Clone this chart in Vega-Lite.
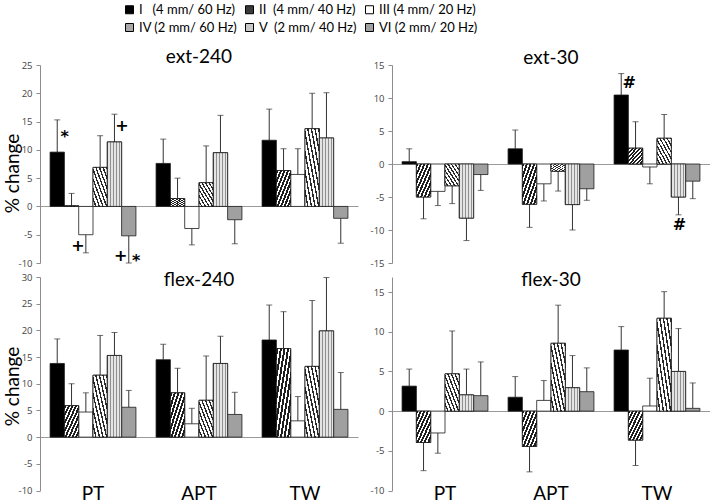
{
  "$schema": "https://vega.github.io/schema/vega-lite/v6.json",
  "background": "white",
  "padding": {"left": 3, "top": 0, "right": 0, "bottom": 0},
  "bounds": "flush",
  "columns": 2,
  "spacing": {"row": 14, "column": 34},
  "datasets": {
    "bars": [
      {"p":"ext-240","g":"PT","c":"I","v":9.6,"e":15.3},
      {"p":"ext-240","g":"PT","c":"II","v":0.1,"e":2.3},
      {"p":"ext-240","g":"PT","c":"III","v":-5.0,"e":-8.2},
      {"p":"ext-240","g":"PT","c":"IV","v":6.9,"e":12.5},
      {"p":"ext-240","g":"PT","c":"V","v":11.4,"e":16.3},
      {"p":"ext-240","g":"PT","c":"VI","v":-5.2,"e":-10.0},
      {"p":"ext-240","g":"APT","c":"I","v":7.6,"e":11.9},
      {"p":"ext-240","g":"APT","c":"II","v":1.4,"e":5.0},
      {"p":"ext-240","g":"APT","c":"III","v":-3.9,"e":-6.8},
      {"p":"ext-240","g":"APT","c":"IV","v":4.2,"e":10.7},
      {"p":"ext-240","g":"APT","c":"V","v":9.5,"e":16.1},
      {"p":"ext-240","g":"APT","c":"VI","v":-2.35,"e":-6.6},
      {"p":"ext-240","g":"TW","c":"I","v":11.7,"e":17.2},
      {"p":"ext-240","g":"TW","c":"II","v":6.35,"e":10.2},
      {"p":"ext-240","g":"TW","c":"III","v":5.65,"e":10.2},
      {"p":"ext-240","g":"TW","c":"IV","v":13.75,"e":20.0},
      {"p":"ext-240","g":"TW","c":"V","v":12.1,"e":20.1},
      {"p":"ext-240","g":"TW","c":"VI","v":-2.1,"e":-6.5},
      {"p":"ext-30","g":"PT","c":"I","v":0.35,"e":2.3},
      {"p":"ext-30","g":"PT","c":"II","v":-5.0,"e":-8.3},
      {"p":"ext-30","g":"PT","c":"III","v":-4.15,"e":-6.3},
      {"p":"ext-30","g":"PT","c":"IV","v":-3.3,"e":-6.0},
      {"p":"ext-30","g":"PT","c":"V","v":-8.2,"e":-11.6},
      {"p":"ext-30","g":"PT","c":"VI","v":-1.6,"e":-4.0},
      {"p":"ext-30","g":"APT","c":"I","v":2.3,"e":5.15},
      {"p":"ext-30","g":"APT","c":"II","v":-6.1,"e":-9.6},
      {"p":"ext-30","g":"APT","c":"III","v":-3.0,"e":-5.6},
      {"p":"ext-30","g":"APT","c":"IV","v":-1.1,"e":-4.1},
      {"p":"ext-30","g":"APT","c":"V","v":-6.15,"e":-10.0},
      {"p":"ext-30","g":"APT","c":"VI","v":-3.75,"e":-5.5},
      {"p":"ext-30","g":"TW","c":"I","v":10.45,"e":13.7},
      {"p":"ext-30","g":"TW","c":"II","v":2.4,"e":6.4},
      {"p":"ext-30","g":"TW","c":"III","v":-0.45,"e":-3.0},
      {"p":"ext-30","g":"TW","c":"IV","v":3.9,"e":7.5},
      {"p":"ext-30","g":"TW","c":"V","v":-5.0,"e":-7.7},
      {"p":"ext-30","g":"TW","c":"VI","v":-2.6,"e":-5.25},
      {"p":"flex-240","g":"PT","c":"I","v":13.8,"e":18.4},
      {"p":"flex-240","g":"PT","c":"II","v":5.9,"e":10.0},
      {"p":"flex-240","g":"PT","c":"III","v":4.7,"e":8.3},
      {"p":"flex-240","g":"PT","c":"IV","v":11.6,"e":19.05},
      {"p":"flex-240","g":"PT","c":"V","v":15.3,"e":19.6},
      {"p":"flex-240","g":"PT","c":"VI","v":5.6,"e":8.75},
      {"p":"flex-240","g":"APT","c":"I","v":14.5,"e":17.4},
      {"p":"flex-240","g":"APT","c":"II","v":8.3,"e":12.9},
      {"p":"flex-240","g":"APT","c":"III","v":2.5,"e":5.4},
      {"p":"flex-240","g":"APT","c":"IV","v":6.9,"e":15.2},
      {"p":"flex-240","g":"APT","c":"V","v":13.8,"e":18.9},
      {"p":"flex-240","g":"APT","c":"VI","v":4.25,"e":8.4},
      {"p":"flex-240","g":"TW","c":"I","v":18.2,"e":24.75},
      {"p":"flex-240","g":"TW","c":"II","v":16.6,"e":23.5},
      {"p":"flex-240","g":"TW","c":"III","v":3.05,"e":7.6},
      {"p":"flex-240","g":"TW","c":"IV","v":13.25,"e":25.6},
      {"p":"flex-240","g":"TW","c":"V","v":19.9,"e":29.9},
      {"p":"flex-240","g":"TW","c":"VI","v":5.2,"e":12.1},
      {"p":"flex-30","g":"PT","c":"I","v":3.15,"e":5.3},
      {"p":"flex-30","g":"PT","c":"II","v":-3.95,"e":-7.5},
      {"p":"flex-30","g":"PT","c":"III","v":-2.75,"e":-5.3},
      {"p":"flex-30","g":"PT","c":"IV","v":4.7,"e":10.1},
      {"p":"flex-30","g":"PT","c":"V","v":2.05,"e":5.3},
      {"p":"flex-30","g":"PT","c":"VI","v":1.95,"e":6.2},
      {"p":"flex-30","g":"APT","c":"I","v":1.75,"e":4.35},
      {"p":"flex-30","g":"APT","c":"II","v":-4.45,"e":-7.65},
      {"p":"flex-30","g":"APT","c":"III","v":1.35,"e":3.85},
      {"p":"flex-30","g":"APT","c":"IV","v":8.55,"e":13.35},
      {"p":"flex-30","g":"APT","c":"V","v":2.95,"e":7.0},
      {"p":"flex-30","g":"APT","c":"VI","v":2.45,"e":5.45},
      {"p":"flex-30","g":"TW","c":"I","v":7.7,"e":10.65},
      {"p":"flex-30","g":"TW","c":"II","v":-3.65,"e":-6.85},
      {"p":"flex-30","g":"TW","c":"III","v":0.65,"e":4.15},
      {"p":"flex-30","g":"TW","c":"IV","v":11.7,"e":15.05},
      {"p":"flex-30","g":"TW","c":"V","v":5.0,"e":10.4},
      {"p":"flex-30","g":"TW","c":"VI","v":0.35,"e":3.55}
    ],
    "notes": [
      {"p":"ext-240","g":"PT","c":"I","y":12.2,"t":"*","s":"r"},
      {"p":"ext-240","g":"PT","c":"V","y":14.2,"t":"+","s":"r"},
      {"p":"ext-240","g":"PT","c":"III","y":-7.05,"t":"+","s":"l"},
      {"p":"ext-240","g":"PT","c":"VI","y":-8.7,"t":"+","s":"l"},
      {"p":"ext-240","g":"PT","c":"VI","y":-9.6,"t":"*","s":"r"},
      {"p":"ext-30","g":"TW","c":"I","y":12.2,"t":"#","s":"r"},
      {"p":"ext-30","g":"TW","c":"V","y":-9.3,"t":"#","s":"c"}
    ]
  },
  "concat": [
    {
      "width": 318, "height": 198,
      "title": {"text": "ext-240", "offset": -22, "baseline": "alphabetic", "frame": "group", "anchor": "middle", "font": "Lato", "fontSize": 19, "fontWeight": "normal", "color": "#000"},
      "data": {"name": "bars"},
      "transform": [{"filter": "datum.p === 'ext-240'"}],
      "encoding": {
        "x": {"field": "g", "type": "nominal", "sort": ["PT","APT","TW"], "scale": {"paddingInner": 0.19, "paddingOuter": 0.095}, "axis": null},
        "xOffset": {"field": "c", "type": "nominal", "sort": ["I","II","III","IV","V","VI"], "scale": {"paddingInner": 0, "paddingOuter": 0}}
      },
      "layer": [
        {"mark": {"type": "rule", "color": "#333", "strokeWidth": 1},
         "encoding": {"y": {"field": "v", "type": "quantitative", "scale": {"domain": [-10, 25], "nice": false, "zero": false},
                 "axis": {"title": "% change", "values": [-10,-5,0,5,10,15,20,25], "tickCount": 20, "labelOverlap": false, "labelExpr": "'' + datum.value", "grid": true, "gridColor": "#9a9a9a", "gridWidth": 1, "gridOpacity": {"condition": {"test": "datum.value === 0", "value": 1}, "value": 0}, "titleX": -22, "titleY": 108, "titleAngle": -90, "titleAlign": "center", "titleBaseline": "alphabetic", "titleFont": "Lato", "titleFontSize": 19, "titleFontWeight": "normal", "titleColor": "#000"}}, "y2": {"field": "e"}}},
        {"mark": {"type": "bar", "stroke": "#1a1a1a", "strokeWidth": 0.8},
         "encoding": {
           "y": {"field": "v", "type": "quantitative"},
           "fill": {"field": "c", "type": "nominal",
             "scale": {"domain": ["I","II","III","IV","V","VI"], "range": ["#000000","#3a3a3a","#ffffff","#a8a8a8","#c8c8c8","#a0a0a0"]},
             "legend": {"orient": "none", "legendX": 80, "legendY": -65, "padding": 3, "columns": 3, "direction": "horizontal", "title": null, "symbolType": "square", "symbolSize": 64, "symbolStrokeColor": "#000", "symbolStrokeWidth": 1, "labelFont": "Lato", "labelFontSize": 13, "labelColor": "#000", "columnPadding": 5, "rowPadding": 4, "labelOffset": 3, "gridAlign": "all",
               "labelExpr": "datum.label === 'I' ? 'I\u00a0\u00a0\u00a0(4 mm/ 60 Hz)' : datum.label === 'II' ? 'II\u00a0\u00a0(4 mm/ 40 Hz)' : datum.label === 'III' ? 'III (4 mm/ 20 Hz)' : datum.label === 'IV' ? 'IV (2 mm/ 60 Hz)' : datum.label === 'V' ? 'V\u00a0\u00a0(2 mm/ 40 Hz)' : 'VI (2 mm/ 20 Hz)'"}}
         }},
        {"transform": [{"filter": "datum.c === 'II'"}],
         "mark": {"type": "bar", "stroke": "#1a1a1a", "strokeWidth": 0.8, "fill": {"gradient": "linear", "x1": 0, "y1": 0, "x2": 1, "y2": 1, "stops": [{"offset":0,"color":"#1e1e1e"},{"offset":0.07,"color":"#1e1e1e"},{"offset":0.07,"color":"#ffffff"},{"offset":0.125,"color":"#ffffff"},{"offset":0.125,"color":"#1e1e1e"},{"offset":0.195,"color":"#1e1e1e"},{"offset":0.195,"color":"#ffffff"},{"offset":0.25,"color":"#ffffff"},{"offset":0.25,"color":"#1e1e1e"},{"offset":0.32,"color":"#1e1e1e"},{"offset":0.32,"color":"#ffffff"},{"offset":0.375,"color":"#ffffff"},{"offset":0.375,"color":"#1e1e1e"},{"offset":0.445,"color":"#1e1e1e"},{"offset":0.445,"color":"#ffffff"},{"offset":0.5,"color":"#ffffff"},{"offset":0.5,"color":"#1e1e1e"},{"offset":0.57,"color":"#1e1e1e"},{"offset":0.57,"color":"#ffffff"},{"offset":0.625,"color":"#ffffff"},{"offset":0.625,"color":"#1e1e1e"},{"offset":0.695,"color":"#1e1e1e"},{"offset":0.695,"color":"#ffffff"},{"offset":0.75,"color":"#ffffff"},{"offset":0.75,"color":"#1e1e1e"},{"offset":0.82,"color":"#1e1e1e"},{"offset":0.82,"color":"#ffffff"},{"offset":0.875,"color":"#ffffff"},{"offset":0.875,"color":"#1e1e1e"},{"offset":0.945,"color":"#1e1e1e"},{"offset":0.945,"color":"#ffffff"},{"offset":1,"color":"#ffffff"}]}},
         "encoding": {"y": {"field": "v", "type": "quantitative"}}},
        {"transform": [{"filter": "datum.c === 'IV'"}],
         "mark": {"type": "bar", "stroke": "#1a1a1a", "strokeWidth": 0.8, "fill": {"gradient": "linear", "x1": 1, "y1": 0, "x2": 0, "y2": 1, "stops": [{"offset":0,"color":"#2a2a2a"},{"offset":0.05,"color":"#2a2a2a"},{"offset":0.05,"color":"#ffffff"},{"offset":0.125,"color":"#ffffff"},{"offset":0.125,"color":"#2a2a2a"},{"offset":0.175,"color":"#2a2a2a"},{"offset":0.175,"color":"#ffffff"},{"offset":0.25,"color":"#ffffff"},{"offset":0.25,"color":"#2a2a2a"},{"offset":0.3,"color":"#2a2a2a"},{"offset":0.3,"color":"#ffffff"},{"offset":0.375,"color":"#ffffff"},{"offset":0.375,"color":"#2a2a2a"},{"offset":0.425,"color":"#2a2a2a"},{"offset":0.425,"color":"#ffffff"},{"offset":0.5,"color":"#ffffff"},{"offset":0.5,"color":"#2a2a2a"},{"offset":0.55,"color":"#2a2a2a"},{"offset":0.55,"color":"#ffffff"},{"offset":0.625,"color":"#ffffff"},{"offset":0.625,"color":"#2a2a2a"},{"offset":0.675,"color":"#2a2a2a"},{"offset":0.675,"color":"#ffffff"},{"offset":0.75,"color":"#ffffff"},{"offset":0.75,"color":"#2a2a2a"},{"offset":0.8,"color":"#2a2a2a"},{"offset":0.8,"color":"#ffffff"},{"offset":0.875,"color":"#ffffff"},{"offset":0.875,"color":"#2a2a2a"},{"offset":0.925,"color":"#2a2a2a"},{"offset":0.925,"color":"#ffffff"},{"offset":1,"color":"#ffffff"}]}},
         "encoding": {"y": {"field": "v", "type": "quantitative"}}},
        {"transform": [{"filter": "datum.c === 'V'"}],
         "mark": {"type": "bar", "stroke": "#1a1a1a", "strokeWidth": 0.8, "fill": {"gradient": "linear", "x1": 0, "y1": 0, "x2": 1, "y2": 0, "stops": [{"offset":0,"color":"#909090"},{"offset":0.08,"color":"#909090"},{"offset":0.08,"color":"#e4e4e4"},{"offset":0.2,"color":"#e4e4e4"},{"offset":0.2,"color":"#909090"},{"offset":0.28,"color":"#909090"},{"offset":0.28,"color":"#e4e4e4"},{"offset":0.4,"color":"#e4e4e4"},{"offset":0.4,"color":"#909090"},{"offset":0.48,"color":"#909090"},{"offset":0.48,"color":"#e4e4e4"},{"offset":0.6,"color":"#e4e4e4"},{"offset":0.6,"color":"#909090"},{"offset":0.68,"color":"#909090"},{"offset":0.68,"color":"#e4e4e4"},{"offset":0.8,"color":"#e4e4e4"},{"offset":0.8,"color":"#909090"},{"offset":0.88,"color":"#909090"},{"offset":0.88,"color":"#e4e4e4"},{"offset":1,"color":"#e4e4e4"}]}},
         "encoding": {"y": {"field": "v", "type": "quantitative"}}},
        {"mark": {"type": "tick", "color": "#333", "thickness": 1, "size": 6},
         "encoding": {"y": {"field": "e", "type": "quantitative"}}},
        {"data": {"name": "notes"}, "transform": [{"filter": "datum.p === 'ext-240' && datum.s === 'r'"}],
         "mark": {"type": "text", "font": "DejaVu Sans", "fontSize": 16, "fontWeight": "bold", "baseline": "middle", "color": "#000", "dx": 7.5},
         "encoding": {"y": {"field": "y", "type": "quantitative"}, "text": {"field": "t"}}},
        {"data": {"name": "notes"}, "transform": [{"filter": "datum.p === 'ext-240' && datum.s === 'l'"}],
         "mark": {"type": "text", "font": "DejaVu Sans", "fontSize": 16, "fontWeight": "bold", "baseline": "middle", "color": "#000", "dx": -8},
         "encoding": {"y": {"field": "y", "type": "quantitative"}, "text": {"field": "t"}}}
      ]
    },
    {
      "width": 318, "height": 198,
      "title": {"text": "ext-30", "offset": -23, "baseline": "alphabetic", "frame": "group", "anchor": "middle", "font": "Lato", "fontSize": 19, "fontWeight": "normal", "color": "#000"},
      "data": {"name": "bars"},
      "transform": [{"filter": "datum.p === 'ext-30'"}],
      "encoding": {
        "x": {"field": "g", "type": "nominal", "sort": ["PT","APT","TW"], "scale": {"paddingInner": 0.19, "paddingOuter": 0.095}, "axis": null},
        "xOffset": {"field": "c", "type": "nominal", "sort": ["I","II","III","IV","V","VI"], "scale": {"paddingInner": 0, "paddingOuter": 0}}
      },
      "layer": [
        {"mark": {"type": "rule", "color": "#333", "strokeWidth": 1},
         "encoding": {"y": {"field": "v", "type": "quantitative", "scale": {"domain": [-15, 15], "nice": false, "zero": false},
                 "axis": {"title": null, "values": [-15,-10,-5,0,5,10,15], "tickCount": 20, "labelOverlap": false, "labelExpr": "'' + datum.value", "grid": true, "gridColor": "#9a9a9a", "gridWidth": 1, "gridOpacity": {"condition": {"test": "datum.value === 0", "value": 1}, "value": 0}}}, "y2": {"field": "e"}}},
        {"mark": {"type": "bar", "stroke": "#1a1a1a", "strokeWidth": 0.8},
         "encoding": {
           "y": {"field": "v", "type": "quantitative"},
           "fill": {"field": "c", "type": "nominal",
             "scale": {"domain": ["I","II","III","IV","V","VI"], "range": ["#000000","#3a3a3a","#ffffff","#a8a8a8","#c8c8c8","#a0a0a0"]},
             "legend": {"orient": "none", "legendX": 80, "legendY": -65, "padding": 3, "columns": 3, "direction": "horizontal", "title": null, "symbolType": "square", "symbolSize": 64, "symbolStrokeColor": "#000", "symbolStrokeWidth": 1, "labelFont": "Lato", "labelFontSize": 13, "labelColor": "#000", "columnPadding": 5, "rowPadding": 4, "labelOffset": 3, "gridAlign": "all",
               "labelExpr": "datum.label === 'I' ? 'I\u00a0\u00a0\u00a0(4 mm/ 60 Hz)' : datum.label === 'II' ? 'II\u00a0\u00a0(4 mm/ 40 Hz)' : datum.label === 'III' ? 'III (4 mm/ 20 Hz)' : datum.label === 'IV' ? 'IV (2 mm/ 60 Hz)' : datum.label === 'V' ? 'V\u00a0\u00a0(2 mm/ 40 Hz)' : 'VI (2 mm/ 20 Hz)'"}}
         }},
        {"transform": [{"filter": "datum.c === 'II'"}],
         "mark": {"type": "bar", "stroke": "#1a1a1a", "strokeWidth": 0.8, "fill": {"gradient": "linear", "x1": 0, "y1": 0, "x2": 1, "y2": 1, "stops": [{"offset":0,"color":"#1e1e1e"},{"offset":0.07,"color":"#1e1e1e"},{"offset":0.07,"color":"#ffffff"},{"offset":0.125,"color":"#ffffff"},{"offset":0.125,"color":"#1e1e1e"},{"offset":0.195,"color":"#1e1e1e"},{"offset":0.195,"color":"#ffffff"},{"offset":0.25,"color":"#ffffff"},{"offset":0.25,"color":"#1e1e1e"},{"offset":0.32,"color":"#1e1e1e"},{"offset":0.32,"color":"#ffffff"},{"offset":0.375,"color":"#ffffff"},{"offset":0.375,"color":"#1e1e1e"},{"offset":0.445,"color":"#1e1e1e"},{"offset":0.445,"color":"#ffffff"},{"offset":0.5,"color":"#ffffff"},{"offset":0.5,"color":"#1e1e1e"},{"offset":0.57,"color":"#1e1e1e"},{"offset":0.57,"color":"#ffffff"},{"offset":0.625,"color":"#ffffff"},{"offset":0.625,"color":"#1e1e1e"},{"offset":0.695,"color":"#1e1e1e"},{"offset":0.695,"color":"#ffffff"},{"offset":0.75,"color":"#ffffff"},{"offset":0.75,"color":"#1e1e1e"},{"offset":0.82,"color":"#1e1e1e"},{"offset":0.82,"color":"#ffffff"},{"offset":0.875,"color":"#ffffff"},{"offset":0.875,"color":"#1e1e1e"},{"offset":0.945,"color":"#1e1e1e"},{"offset":0.945,"color":"#ffffff"},{"offset":1,"color":"#ffffff"}]}},
         "encoding": {"y": {"field": "v", "type": "quantitative"}}},
        {"transform": [{"filter": "datum.c === 'IV'"}],
         "mark": {"type": "bar", "stroke": "#1a1a1a", "strokeWidth": 0.8, "fill": {"gradient": "linear", "x1": 1, "y1": 0, "x2": 0, "y2": 1, "stops": [{"offset":0,"color":"#2a2a2a"},{"offset":0.05,"color":"#2a2a2a"},{"offset":0.05,"color":"#ffffff"},{"offset":0.125,"color":"#ffffff"},{"offset":0.125,"color":"#2a2a2a"},{"offset":0.175,"color":"#2a2a2a"},{"offset":0.175,"color":"#ffffff"},{"offset":0.25,"color":"#ffffff"},{"offset":0.25,"color":"#2a2a2a"},{"offset":0.3,"color":"#2a2a2a"},{"offset":0.3,"color":"#ffffff"},{"offset":0.375,"color":"#ffffff"},{"offset":0.375,"color":"#2a2a2a"},{"offset":0.425,"color":"#2a2a2a"},{"offset":0.425,"color":"#ffffff"},{"offset":0.5,"color":"#ffffff"},{"offset":0.5,"color":"#2a2a2a"},{"offset":0.55,"color":"#2a2a2a"},{"offset":0.55,"color":"#ffffff"},{"offset":0.625,"color":"#ffffff"},{"offset":0.625,"color":"#2a2a2a"},{"offset":0.675,"color":"#2a2a2a"},{"offset":0.675,"color":"#ffffff"},{"offset":0.75,"color":"#ffffff"},{"offset":0.75,"color":"#2a2a2a"},{"offset":0.8,"color":"#2a2a2a"},{"offset":0.8,"color":"#ffffff"},{"offset":0.875,"color":"#ffffff"},{"offset":0.875,"color":"#2a2a2a"},{"offset":0.925,"color":"#2a2a2a"},{"offset":0.925,"color":"#ffffff"},{"offset":1,"color":"#ffffff"}]}},
         "encoding": {"y": {"field": "v", "type": "quantitative"}}},
        {"transform": [{"filter": "datum.c === 'V'"}],
         "mark": {"type": "bar", "stroke": "#1a1a1a", "strokeWidth": 0.8, "fill": {"gradient": "linear", "x1": 0, "y1": 0, "x2": 1, "y2": 0, "stops": [{"offset":0,"color":"#909090"},{"offset":0.08,"color":"#909090"},{"offset":0.08,"color":"#e4e4e4"},{"offset":0.2,"color":"#e4e4e4"},{"offset":0.2,"color":"#909090"},{"offset":0.28,"color":"#909090"},{"offset":0.28,"color":"#e4e4e4"},{"offset":0.4,"color":"#e4e4e4"},{"offset":0.4,"color":"#909090"},{"offset":0.48,"color":"#909090"},{"offset":0.48,"color":"#e4e4e4"},{"offset":0.6,"color":"#e4e4e4"},{"offset":0.6,"color":"#909090"},{"offset":0.68,"color":"#909090"},{"offset":0.68,"color":"#e4e4e4"},{"offset":0.8,"color":"#e4e4e4"},{"offset":0.8,"color":"#909090"},{"offset":0.88,"color":"#909090"},{"offset":0.88,"color":"#e4e4e4"},{"offset":1,"color":"#e4e4e4"}]}},
         "encoding": {"y": {"field": "v", "type": "quantitative"}}},
        {"mark": {"type": "tick", "color": "#333", "thickness": 1, "size": 6},
         "encoding": {"y": {"field": "e", "type": "quantitative"}}},
        {"data": {"name": "notes"}, "transform": [{"filter": "datum.p === 'ext-30' && datum.s === 'r'"}],
         "mark": {"type": "text", "font": "DejaVu Sans", "fontSize": 16, "fontWeight": "bold", "baseline": "middle", "color": "#000", "dx": 8},
         "encoding": {"y": {"field": "y", "type": "quantitative"}, "text": {"field": "t"}}},
        {"data": {"name": "notes"}, "transform": [{"filter": "datum.p === 'ext-30' && datum.s === 'c'"}],
         "mark": {"type": "text", "font": "DejaVu Sans", "fontSize": 16, "fontWeight": "bold", "baseline": "middle", "color": "#000", "dx": 1},
         "encoding": {"y": {"field": "y", "type": "quantitative"}, "text": {"field": "t"}}}
      ]
    },
    {
      "width": 318, "height": 213.5,
      "title": {"text": "flex-240", "offset": -33, "baseline": "alphabetic", "frame": "group", "anchor": "middle", "font": "Lato", "fontSize": 19, "fontWeight": "normal", "color": "#000"},
      "data": {"name": "bars"},
      "transform": [{"filter": "datum.p === 'flex-240'"}],
      "encoding": {
        "x": {"field": "g", "type": "nominal", "sort": ["PT","APT","TW"], "scale": {"paddingInner": 0.19, "paddingOuter": 0.095},
              "axis": {"title": null, "domain": false, "ticks": false, "labelAngle": 0, "labelFont": "Lato", "labelFontSize": 19, "labelColor": "#000", "labelBaseline": "alphabetic", "labelPadding": 9}},
        "xOffset": {"field": "c", "type": "nominal", "sort": ["I","II","III","IV","V","VI"], "scale": {"paddingInner": 0, "paddingOuter": 0}}
      },
      "layer": [
        {"mark": {"type": "rule", "color": "#333", "strokeWidth": 1},
         "encoding": {"y": {"field": "v", "type": "quantitative", "scale": {"domain": [-10, 30], "nice": false, "zero": false},
                 "axis": {"title": "% change", "values": [-10,-5,0,5,10,15,20,25,30], "tickCount": 20, "labelOverlap": false, "labelExpr": "'' + datum.value", "grid": true, "gridColor": "#9a9a9a", "gridWidth": 1, "gridOpacity": {"condition": {"test": "datum.value === 0", "value": 1}, "value": 0}, "titleX": -22, "titleY": 109, "titleAngle": -90, "titleAlign": "center", "titleBaseline": "alphabetic", "titleFont": "Lato", "titleFontSize": 19, "titleFontWeight": "normal", "titleColor": "#000"}}, "y2": {"field": "e"}}},
        {"mark": {"type": "bar", "stroke": "#1a1a1a", "strokeWidth": 0.8},
         "encoding": {
           "y": {"field": "v", "type": "quantitative"},
           "fill": {"field": "c", "type": "nominal",
             "scale": {"domain": ["I","II","III","IV","V","VI"], "range": ["#000000","#3a3a3a","#ffffff","#a8a8a8","#c8c8c8","#a0a0a0"]},
             "legend": {"orient": "none", "legendX": 80, "legendY": -65, "padding": 3, "columns": 3, "direction": "horizontal", "title": null, "symbolType": "square", "symbolSize": 64, "symbolStrokeColor": "#000", "symbolStrokeWidth": 1, "labelFont": "Lato", "labelFontSize": 13, "labelColor": "#000", "columnPadding": 5, "rowPadding": 4, "labelOffset": 3, "gridAlign": "all",
               "labelExpr": "datum.label === 'I' ? 'I\u00a0\u00a0\u00a0(4 mm/ 60 Hz)' : datum.label === 'II' ? 'II\u00a0\u00a0(4 mm/ 40 Hz)' : datum.label === 'III' ? 'III (4 mm/ 20 Hz)' : datum.label === 'IV' ? 'IV (2 mm/ 60 Hz)' : datum.label === 'V' ? 'V\u00a0\u00a0(2 mm/ 40 Hz)' : 'VI (2 mm/ 20 Hz)'"}}
         }},
        {"transform": [{"filter": "datum.c === 'II'"}],
         "mark": {"type": "bar", "stroke": "#1a1a1a", "strokeWidth": 0.8, "fill": {"gradient": "linear", "x1": 0, "y1": 0, "x2": 1, "y2": 1, "stops": [{"offset":0,"color":"#1e1e1e"},{"offset":0.07,"color":"#1e1e1e"},{"offset":0.07,"color":"#ffffff"},{"offset":0.125,"color":"#ffffff"},{"offset":0.125,"color":"#1e1e1e"},{"offset":0.195,"color":"#1e1e1e"},{"offset":0.195,"color":"#ffffff"},{"offset":0.25,"color":"#ffffff"},{"offset":0.25,"color":"#1e1e1e"},{"offset":0.32,"color":"#1e1e1e"},{"offset":0.32,"color":"#ffffff"},{"offset":0.375,"color":"#ffffff"},{"offset":0.375,"color":"#1e1e1e"},{"offset":0.445,"color":"#1e1e1e"},{"offset":0.445,"color":"#ffffff"},{"offset":0.5,"color":"#ffffff"},{"offset":0.5,"color":"#1e1e1e"},{"offset":0.57,"color":"#1e1e1e"},{"offset":0.57,"color":"#ffffff"},{"offset":0.625,"color":"#ffffff"},{"offset":0.625,"color":"#1e1e1e"},{"offset":0.695,"color":"#1e1e1e"},{"offset":0.695,"color":"#ffffff"},{"offset":0.75,"color":"#ffffff"},{"offset":0.75,"color":"#1e1e1e"},{"offset":0.82,"color":"#1e1e1e"},{"offset":0.82,"color":"#ffffff"},{"offset":0.875,"color":"#ffffff"},{"offset":0.875,"color":"#1e1e1e"},{"offset":0.945,"color":"#1e1e1e"},{"offset":0.945,"color":"#ffffff"},{"offset":1,"color":"#ffffff"}]}},
         "encoding": {"y": {"field": "v", "type": "quantitative"}}},
        {"transform": [{"filter": "datum.c === 'IV'"}],
         "mark": {"type": "bar", "stroke": "#1a1a1a", "strokeWidth": 0.8, "fill": {"gradient": "linear", "x1": 1, "y1": 0, "x2": 0, "y2": 1, "stops": [{"offset":0,"color":"#2a2a2a"},{"offset":0.05,"color":"#2a2a2a"},{"offset":0.05,"color":"#ffffff"},{"offset":0.125,"color":"#ffffff"},{"offset":0.125,"color":"#2a2a2a"},{"offset":0.175,"color":"#2a2a2a"},{"offset":0.175,"color":"#ffffff"},{"offset":0.25,"color":"#ffffff"},{"offset":0.25,"color":"#2a2a2a"},{"offset":0.3,"color":"#2a2a2a"},{"offset":0.3,"color":"#ffffff"},{"offset":0.375,"color":"#ffffff"},{"offset":0.375,"color":"#2a2a2a"},{"offset":0.425,"color":"#2a2a2a"},{"offset":0.425,"color":"#ffffff"},{"offset":0.5,"color":"#ffffff"},{"offset":0.5,"color":"#2a2a2a"},{"offset":0.55,"color":"#2a2a2a"},{"offset":0.55,"color":"#ffffff"},{"offset":0.625,"color":"#ffffff"},{"offset":0.625,"color":"#2a2a2a"},{"offset":0.675,"color":"#2a2a2a"},{"offset":0.675,"color":"#ffffff"},{"offset":0.75,"color":"#ffffff"},{"offset":0.75,"color":"#2a2a2a"},{"offset":0.8,"color":"#2a2a2a"},{"offset":0.8,"color":"#ffffff"},{"offset":0.875,"color":"#ffffff"},{"offset":0.875,"color":"#2a2a2a"},{"offset":0.925,"color":"#2a2a2a"},{"offset":0.925,"color":"#ffffff"},{"offset":1,"color":"#ffffff"}]}},
         "encoding": {"y": {"field": "v", "type": "quantitative"}}},
        {"transform": [{"filter": "datum.c === 'V'"}],
         "mark": {"type": "bar", "stroke": "#1a1a1a", "strokeWidth": 0.8, "fill": {"gradient": "linear", "x1": 0, "y1": 0, "x2": 1, "y2": 0, "stops": [{"offset":0,"color":"#909090"},{"offset":0.08,"color":"#909090"},{"offset":0.08,"color":"#e4e4e4"},{"offset":0.2,"color":"#e4e4e4"},{"offset":0.2,"color":"#909090"},{"offset":0.28,"color":"#909090"},{"offset":0.28,"color":"#e4e4e4"},{"offset":0.4,"color":"#e4e4e4"},{"offset":0.4,"color":"#909090"},{"offset":0.48,"color":"#909090"},{"offset":0.48,"color":"#e4e4e4"},{"offset":0.6,"color":"#e4e4e4"},{"offset":0.6,"color":"#909090"},{"offset":0.68,"color":"#909090"},{"offset":0.68,"color":"#e4e4e4"},{"offset":0.8,"color":"#e4e4e4"},{"offset":0.8,"color":"#909090"},{"offset":0.88,"color":"#909090"},{"offset":0.88,"color":"#e4e4e4"},{"offset":1,"color":"#e4e4e4"}]}},
         "encoding": {"y": {"field": "v", "type": "quantitative"}}},
        {"mark": {"type": "tick", "color": "#333", "thickness": 1, "size": 6},
         "encoding": {"y": {"field": "e", "type": "quantitative"}}}
      ]
    },
    {
      "width": 318, "height": 213.5,
      "title": {"text": "flex-30", "offset": -28, "baseline": "alphabetic", "frame": "group", "anchor": "middle", "font": "Lato", "fontSize": 19, "fontWeight": "normal", "color": "#000"},
      "data": {"name": "bars"},
      "transform": [{"filter": "datum.p === 'flex-30'"}],
      "encoding": {
        "x": {"field": "g", "type": "nominal", "sort": ["PT","APT","TW"], "scale": {"paddingInner": 0.19, "paddingOuter": 0.095},
              "axis": {"title": null, "domain": false, "ticks": false, "labelAngle": 0, "labelFont": "Lato", "labelFontSize": 19, "labelColor": "#000", "labelBaseline": "alphabetic", "labelPadding": 9}},
        "xOffset": {"field": "c", "type": "nominal", "sort": ["I","II","III","IV","V","VI"], "scale": {"paddingInner": 0, "paddingOuter": 0}}
      },
      "layer": [
        {"mark": {"type": "rule", "color": "#333", "strokeWidth": 1},
         "encoding": {"y": {"field": "v", "type": "quantitative", "scale": {"domain": [-10, 16.9], "nice": false, "zero": false},
                 "axis": {"title": null, "values": [-10,-5,0,5,10,15], "tickCount": 20, "labelOverlap": false, "labelExpr": "'' + datum.value", "grid": true, "gridColor": "#9a9a9a", "gridWidth": 1, "gridOpacity": {"condition": {"test": "datum.value === 0", "value": 1}, "value": 0}}}, "y2": {"field": "e"}}},
        {"mark": {"type": "bar", "stroke": "#1a1a1a", "strokeWidth": 0.8},
         "encoding": {
           "y": {"field": "v", "type": "quantitative"},
           "fill": {"field": "c", "type": "nominal",
             "scale": {"domain": ["I","II","III","IV","V","VI"], "range": ["#000000","#3a3a3a","#ffffff","#a8a8a8","#c8c8c8","#a0a0a0"]},
             "legend": {"orient": "none", "legendX": 80, "legendY": -65, "padding": 3, "columns": 3, "direction": "horizontal", "title": null, "symbolType": "square", "symbolSize": 64, "symbolStrokeColor": "#000", "symbolStrokeWidth": 1, "labelFont": "Lato", "labelFontSize": 13, "labelColor": "#000", "columnPadding": 5, "rowPadding": 4, "labelOffset": 3, "gridAlign": "all",
               "labelExpr": "datum.label === 'I' ? 'I\u00a0\u00a0\u00a0(4 mm/ 60 Hz)' : datum.label === 'II' ? 'II\u00a0\u00a0(4 mm/ 40 Hz)' : datum.label === 'III' ? 'III (4 mm/ 20 Hz)' : datum.label === 'IV' ? 'IV (2 mm/ 60 Hz)' : datum.label === 'V' ? 'V\u00a0\u00a0(2 mm/ 40 Hz)' : 'VI (2 mm/ 20 Hz)'"}}
         }},
        {"transform": [{"filter": "datum.c === 'II'"}],
         "mark": {"type": "bar", "stroke": "#1a1a1a", "strokeWidth": 0.8, "fill": {"gradient": "linear", "x1": 0, "y1": 0, "x2": 1, "y2": 1, "stops": [{"offset":0,"color":"#1e1e1e"},{"offset":0.07,"color":"#1e1e1e"},{"offset":0.07,"color":"#ffffff"},{"offset":0.125,"color":"#ffffff"},{"offset":0.125,"color":"#1e1e1e"},{"offset":0.195,"color":"#1e1e1e"},{"offset":0.195,"color":"#ffffff"},{"offset":0.25,"color":"#ffffff"},{"offset":0.25,"color":"#1e1e1e"},{"offset":0.32,"color":"#1e1e1e"},{"offset":0.32,"color":"#ffffff"},{"offset":0.375,"color":"#ffffff"},{"offset":0.375,"color":"#1e1e1e"},{"offset":0.445,"color":"#1e1e1e"},{"offset":0.445,"color":"#ffffff"},{"offset":0.5,"color":"#ffffff"},{"offset":0.5,"color":"#1e1e1e"},{"offset":0.57,"color":"#1e1e1e"},{"offset":0.57,"color":"#ffffff"},{"offset":0.625,"color":"#ffffff"},{"offset":0.625,"color":"#1e1e1e"},{"offset":0.695,"color":"#1e1e1e"},{"offset":0.695,"color":"#ffffff"},{"offset":0.75,"color":"#ffffff"},{"offset":0.75,"color":"#1e1e1e"},{"offset":0.82,"color":"#1e1e1e"},{"offset":0.82,"color":"#ffffff"},{"offset":0.875,"color":"#ffffff"},{"offset":0.875,"color":"#1e1e1e"},{"offset":0.945,"color":"#1e1e1e"},{"offset":0.945,"color":"#ffffff"},{"offset":1,"color":"#ffffff"}]}},
         "encoding": {"y": {"field": "v", "type": "quantitative"}}},
        {"transform": [{"filter": "datum.c === 'IV'"}],
         "mark": {"type": "bar", "stroke": "#1a1a1a", "strokeWidth": 0.8, "fill": {"gradient": "linear", "x1": 1, "y1": 0, "x2": 0, "y2": 1, "stops": [{"offset":0,"color":"#2a2a2a"},{"offset":0.05,"color":"#2a2a2a"},{"offset":0.05,"color":"#ffffff"},{"offset":0.125,"color":"#ffffff"},{"offset":0.125,"color":"#2a2a2a"},{"offset":0.175,"color":"#2a2a2a"},{"offset":0.175,"color":"#ffffff"},{"offset":0.25,"color":"#ffffff"},{"offset":0.25,"color":"#2a2a2a"},{"offset":0.3,"color":"#2a2a2a"},{"offset":0.3,"color":"#ffffff"},{"offset":0.375,"color":"#ffffff"},{"offset":0.375,"color":"#2a2a2a"},{"offset":0.425,"color":"#2a2a2a"},{"offset":0.425,"color":"#ffffff"},{"offset":0.5,"color":"#ffffff"},{"offset":0.5,"color":"#2a2a2a"},{"offset":0.55,"color":"#2a2a2a"},{"offset":0.55,"color":"#ffffff"},{"offset":0.625,"color":"#ffffff"},{"offset":0.625,"color":"#2a2a2a"},{"offset":0.675,"color":"#2a2a2a"},{"offset":0.675,"color":"#ffffff"},{"offset":0.75,"color":"#ffffff"},{"offset":0.75,"color":"#2a2a2a"},{"offset":0.8,"color":"#2a2a2a"},{"offset":0.8,"color":"#ffffff"},{"offset":0.875,"color":"#ffffff"},{"offset":0.875,"color":"#2a2a2a"},{"offset":0.925,"color":"#2a2a2a"},{"offset":0.925,"color":"#ffffff"},{"offset":1,"color":"#ffffff"}]}},
         "encoding": {"y": {"field": "v", "type": "quantitative"}}},
        {"transform": [{"filter": "datum.c === 'V'"}],
         "mark": {"type": "bar", "stroke": "#1a1a1a", "strokeWidth": 0.8, "fill": {"gradient": "linear", "x1": 0, "y1": 0, "x2": 1, "y2": 0, "stops": [{"offset":0,"color":"#909090"},{"offset":0.08,"color":"#909090"},{"offset":0.08,"color":"#e4e4e4"},{"offset":0.2,"color":"#e4e4e4"},{"offset":0.2,"color":"#909090"},{"offset":0.28,"color":"#909090"},{"offset":0.28,"color":"#e4e4e4"},{"offset":0.4,"color":"#e4e4e4"},{"offset":0.4,"color":"#909090"},{"offset":0.48,"color":"#909090"},{"offset":0.48,"color":"#e4e4e4"},{"offset":0.6,"color":"#e4e4e4"},{"offset":0.6,"color":"#909090"},{"offset":0.68,"color":"#909090"},{"offset":0.68,"color":"#e4e4e4"},{"offset":0.8,"color":"#e4e4e4"},{"offset":0.8,"color":"#909090"},{"offset":0.88,"color":"#909090"},{"offset":0.88,"color":"#e4e4e4"},{"offset":1,"color":"#e4e4e4"}]}},
         "encoding": {"y": {"field": "v", "type": "quantitative"}}},
        {"mark": {"type": "tick", "color": "#333", "thickness": 1, "size": 6},
         "encoding": {"y": {"field": "e", "type": "quantitative"}}}
      ]
    }
  ],
  "config": {
    "view": {"stroke": null},
    "font": "Lato",
    "axis": {"domainColor": "#8c8c8c", "tickColor": "#8c8c8c", "tickSize": 4, "labelFont": "Open Sans", "labelFontSize": 9.5, "labelColor": "#444", "grid": false, "labelPadding": 4}
  }
}
